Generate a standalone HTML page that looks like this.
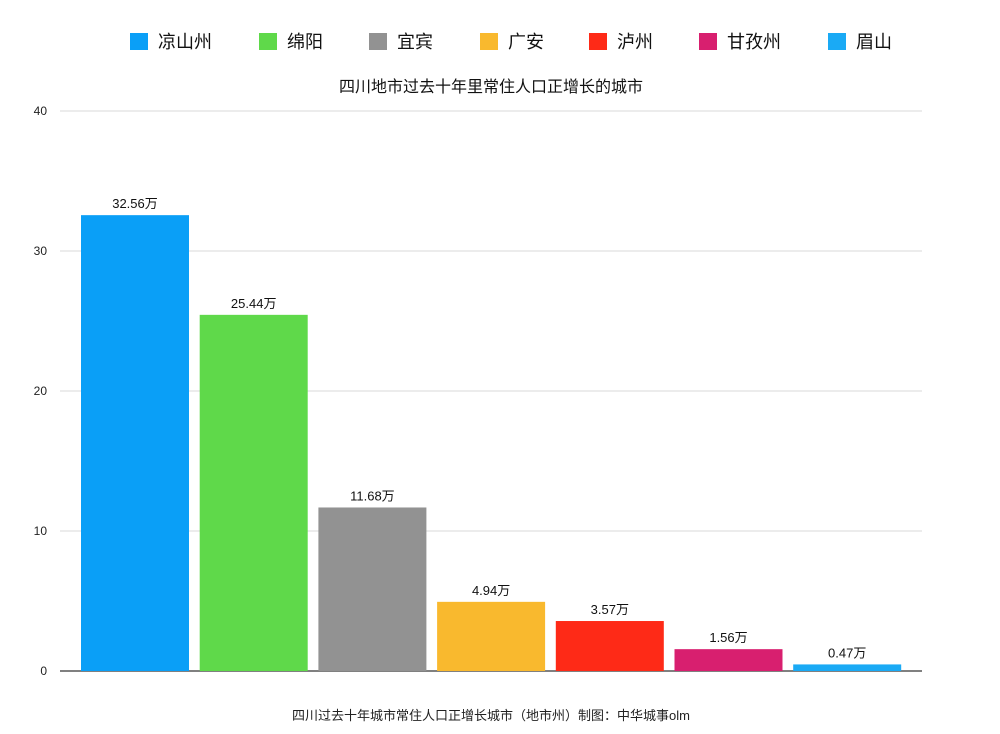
<!DOCTYPE html>
<html><head><meta charset="utf-8">
<style>
body{margin:0;background:#fff;font-family:"Liberation Sans","Noto Sans CJK SC",sans-serif;}
svg{display:block}
</style></head>
<body>
<svg id="chart" width="1000" height="734">
<g id="legend"></g>
<text x="491" y="92" text-anchor="middle" font-size="16" fill="#111">四川地市过去十年里常住人口正增长的城市</text>
<g id="grid"></g>
<g id="bars"></g>
<text x="491" y="720" text-anchor="middle" font-size="13" fill="#222">四川过去十年城市常住人口正增长城市（地市州）制图：中华城事olm</text>
</svg>
<script>
const categories=["凉山州","绵阳","宜宾","广安","泸州","甘孜州","眉山"];
const values=[32.56,25.44,11.68,4.94,3.57,1.56,0.47];
const labels=["32.56万","25.44万","11.68万","4.94万","3.57万","1.56万","0.47万"];
const colors=["#0a9ff7","#5fd94a","#929292","#f9b92e","#fe2a17","#d81f6f","#1aaaf5"];
const ticks=[0,10,20,30,40];
const NS="http://www.w3.org/2000/svg";
const x0=60,x1=922,y0=671,yTop=111,yMax=40;
const y=v=>y0-(v/yMax)*(y0-yTop);
const step=(x1-x0-2)/categories.length, bw=108;
const xb=i=>81+i*118.7;
function mk(t,a,p){const e=document.createElementNS(NS,t);for(const k in a)e.setAttribute(k,a[k]);p.appendChild(e);return e;}
const grid=document.getElementById('grid');
ticks.forEach(t=>{
 const l=mk('line',{x1:x0,x2:x1,y1:y(t),y2:y(t),stroke:t===0?'#000':'#d8d8d8','stroke-width':1},grid);
 
 
 const tx=mk('text',{x:47,y:y(t)+4,'text-anchor':'end','font-size':12,fill:'#222'},grid);
 tx.textContent=t;
 
 
});
const bars=document.getElementById('bars');
values.forEach((v,i)=>{
 const r=mk('rect',{x:xb(i),y:y(v),width:bw,height:y0-y(v),fill:colors[i]},bars);
 
 
 const t=mk('text',{x:xb(i)+bw/2,y:y(v)-7,'text-anchor':'middle','font-size':13,fill:'#111'},bars);
 t.textContent=labels[i];
 
 
});
const lg=document.getElementById('legend');
const lx=[130,259,369,480,589,699,828];
categories.forEach((c,i)=>{
 const r=mk('rect',{x:lx[i],y:33,width:18,height:17,fill:colors[i]},lg);
 
 
 const t=mk('text',{x:lx[i]+28,y:48,'font-size':18,fill:'#111'},lg);
 t.textContent=c;
 
 
});
</script>
</body></html>
